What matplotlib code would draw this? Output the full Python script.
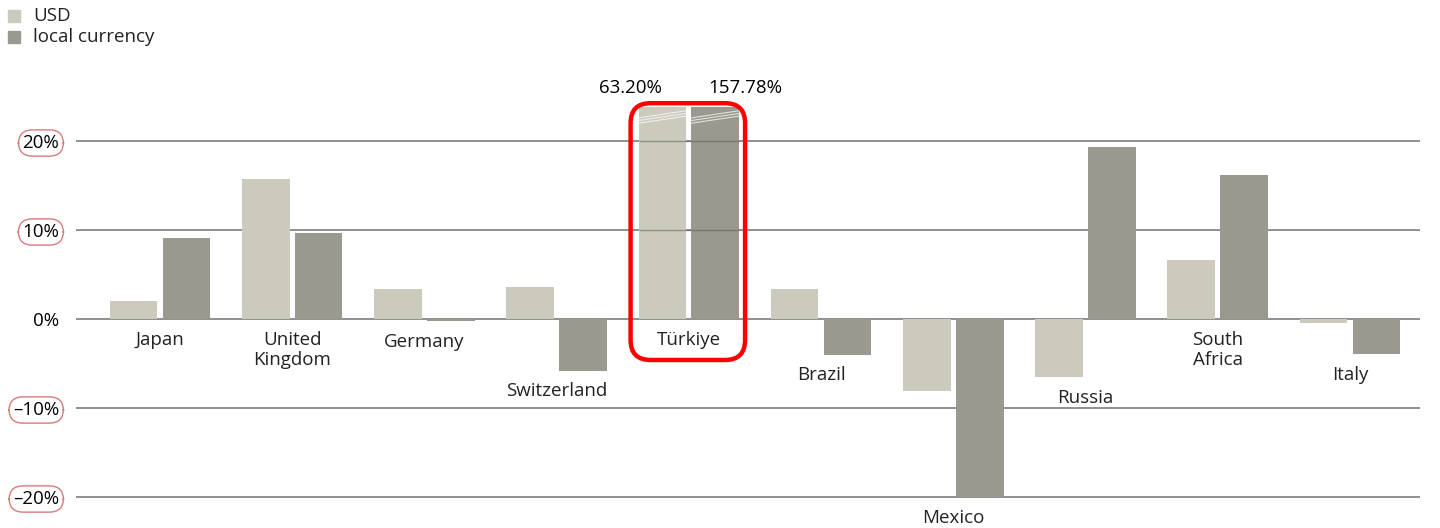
import numpy as np
import matplotlib.pyplot as plt
from matplotlib.patches import FancyBboxPatch, Rectangle
from matplotlib.transforms import IdentityTransform

plt.rcParams['font.family'] = ['Open Sans', 'DejaVu Sans']

# data (percent change)
countries = ['Japan', 'United\nKingdom', 'Germany', 'Switzerland', 'Türkiye',
             'Brazil', 'Mexico', 'Russia', 'South\nAfrica', 'Italy']
usd = [2.0, 15.7, 3.4, 3.6, 63.20, 3.4, -8.1, -6.5, 6.6, -0.5]
local = [9.1, 9.7, -0.2, -5.8, 157.78, -4.0, -20.0, 19.3, 16.2, -3.9]
yticks = [-20, -10, 0, 10, 20]
ytick_labels = ['\u201320%', '\u201310%', '0%', '10%', '20%']

usd_color = '#cbcabd'
local_color = '#99998f'
grid_color = '#7d7d7d'
fs = 13.5
cap = 23.8  # bars above this are cut off (axis break)

fig = plt.figure(figsize=(14.4, 5.28), dpi=100)
ax = fig.add_axes([76 / 1440, 0, (1420 - 76) / 1440, 1])
ax.set_xlim(-0.635, 9.53)
ax.set_ylim(-209 / 8.9, 319 / 8.9)

x = np.arange(len(countries))
w = 0.36
off = 0.2
usd_c = np.minimum(usd, cap)
local_c = np.minimum(local, cap)

for v in yticks:
    ax.axhline(v, color=grid_color, lw=1.2, zorder=1)
ax.bar(x - off, usd_c, w, color=usd_color, zorder=2)
ax.bar(x + off, local_c, w, color=local_color, zorder=2)

# grid lines shown through the cut-off Türkiye bars
ti = countries.index('Türkiye')
for v in [10, 20]:
    ax.hlines(v, ti - off - w / 2, ti + off + w / 2, color='#555555', lw=1.0,
              alpha=0.5, zorder=3)
# break marks at top of cut bars
for dx in [-off, off]:
    for k in range(3):
        y0 = cap - 1.2 - k * 0.3
        ax.plot([ti + dx - w / 2, ti + dx + w / 2], [y0, y0 + 0.8], color='white',
                lw=0.8, alpha=0.7, zorder=3)

ax.text(ti - 0.44, 25.96, f'{usd[ti]:.2f}%', ha='center', va='center', fontsize=fs)
ax.text(ti + 0.43, 25.96, f'{local[ti]:.2f}%', ha='center', va='center', fontsize=fs)

# category labels under the lowest point of each group
for i, name in enumerate(countries):
    low = min(0, usd_c[i], local_c[i])
    ax.annotate(name, (x[i], low), xytext=(0, -8.5), textcoords='offset points',
                ha='center', va='top', fontsize=fs, linespacing=1.15, color='#222222')

# red highlight box around Türkiye
p0 = ax.transData.transform((ti - off - w / 2, cap))
p1 = ax.transData.transform((ti + off + w / 2, 0))
box = FancyBboxPatch((p0[0] - 8, p1[1] - 41), (p1[0] - p0[0]) + 14, (p0[1] - p1[1]) + 45,
                     boxstyle='round,pad=0,rounding_size=20', fill=False,
                     ec='#ff0000', lw=3.2, transform=IdentityTransform(), zorder=5,
                     clip_on=False)
fig.patches.append(box)

ax.set_yticks(yticks)
ax.set_yticklabels(ytick_labels, fontsize=fs)
ax.tick_params(axis='y', length=0, pad=12)
for lab, v in zip(ax.get_yticklabels(), yticks):
    if v != 0:
        lab.set_bbox(dict(boxstyle='round,pad=0.22,rounding_size=0.75', fc='white',
                          ec='#d97b7b', lw=1.0))
ax.set_xticks([])
for s in ax.spines.values():
    s.set_visible(False)

# legend
for j, (lab, c) in enumerate([('USD', usd_color), ('local currency', local_color)]):
    yy = 1 - (16 + 21 * j) / 528
    fig.patches.append(Rectangle((8 / 1440, yy - 6 / 528), 12 / 1440, 12 / 528,
                                 transform=fig.transFigure, color=c))
    fig.text(33 / 1440, yy, lab, ha='left', va='center', fontsize=fs, color='#222222')

fig.savefig('out.png', dpi=100)
